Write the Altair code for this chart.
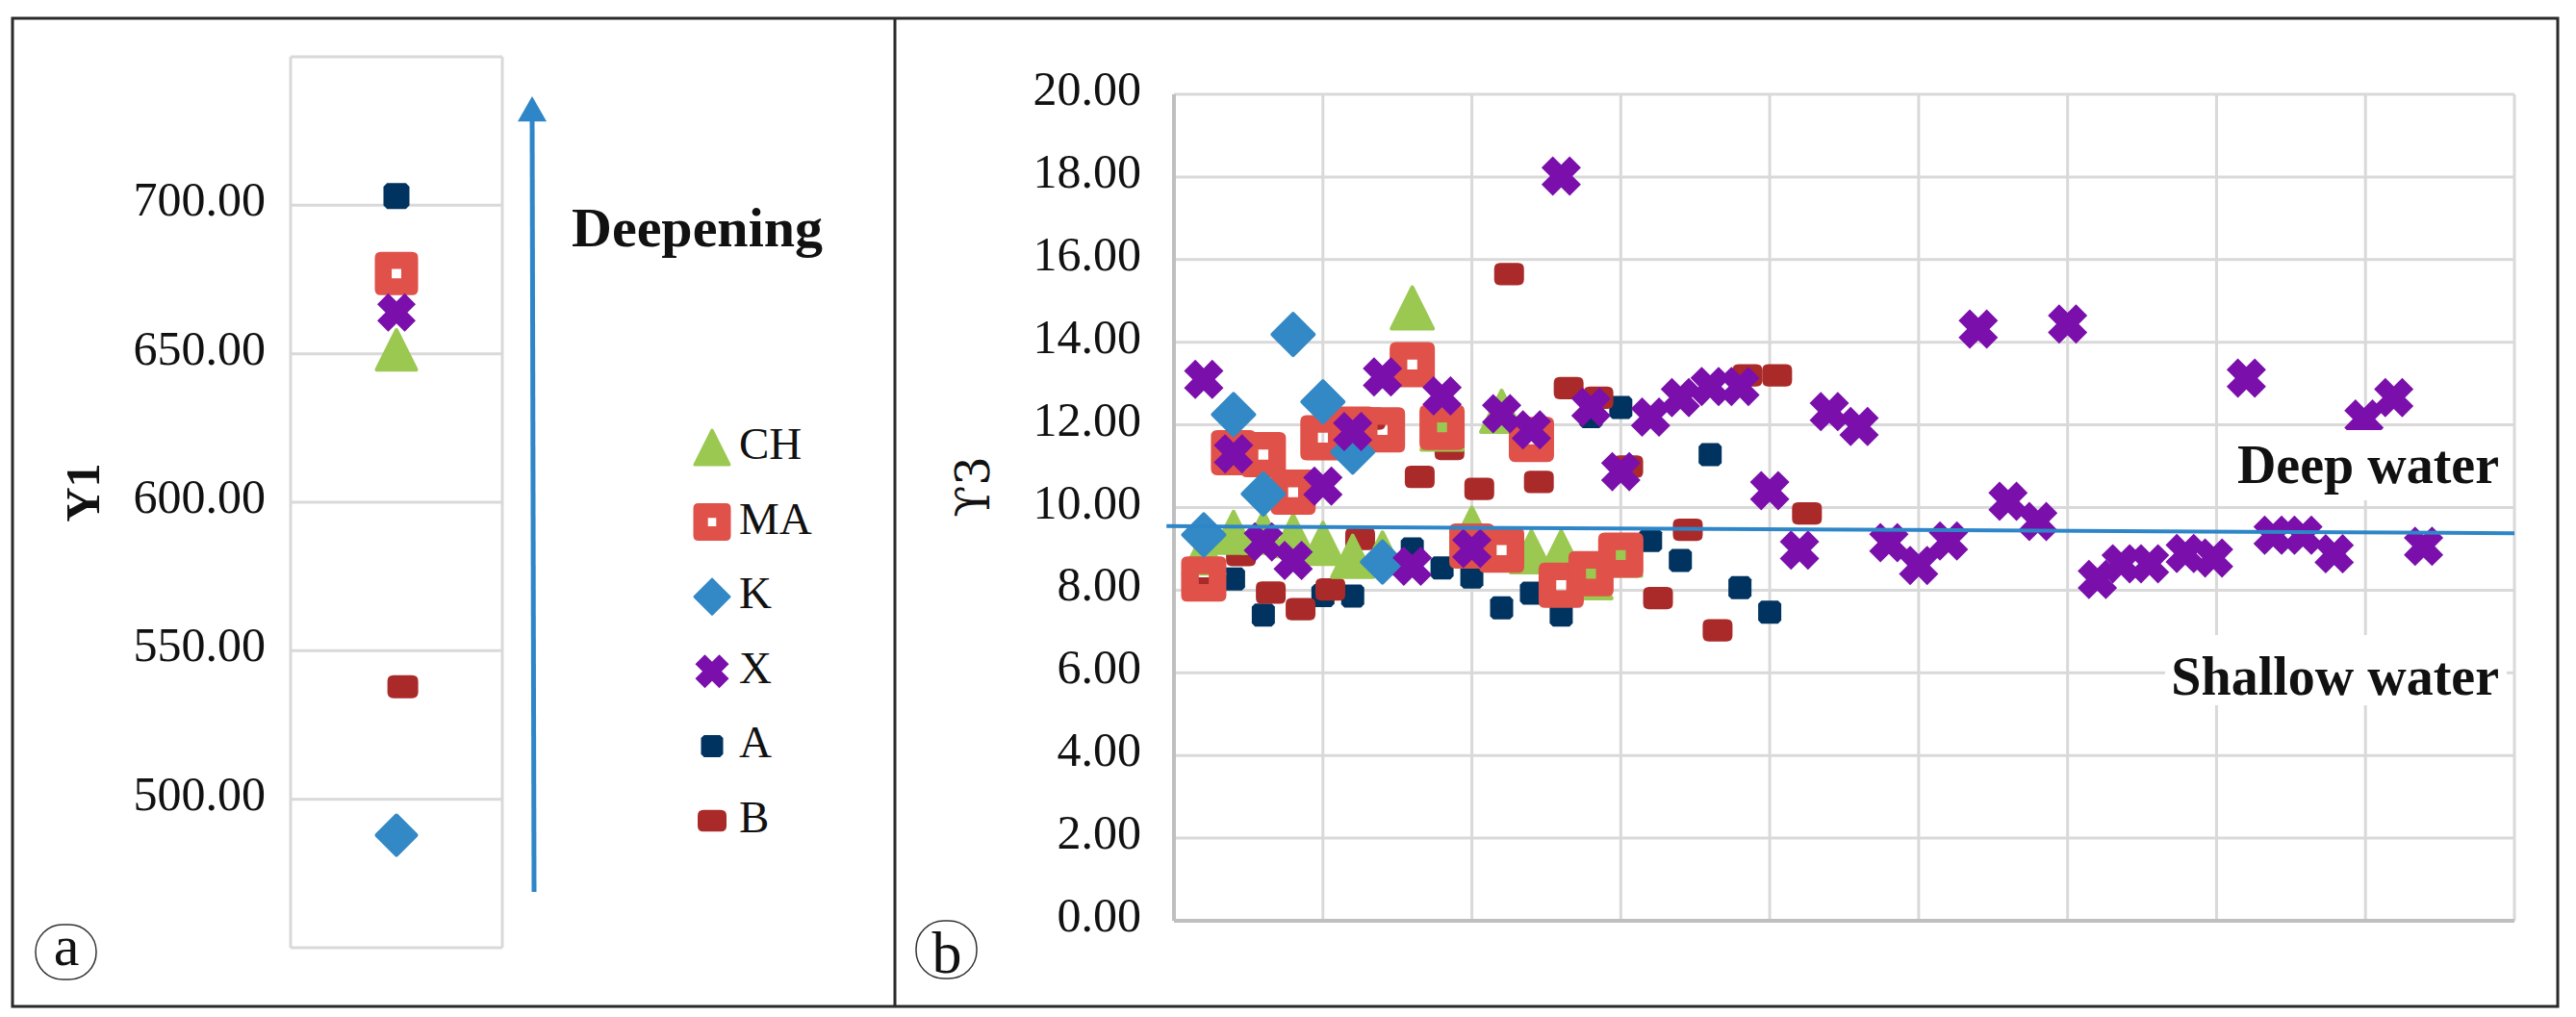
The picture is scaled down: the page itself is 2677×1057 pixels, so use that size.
import math
import altair as alt
import pandas as pd

# ---------------- data ----------------
series = ["CH", "MA", "K", "X", "A", "B"]

# panel (a): Y1 per series (single column)
y1_series = ["CH", "MA", "K", "X", "A", "B"]
y1_xpos = [0.5, 0.5, 0.5, 0.5, 0.5, 0.53]
y1_vals = [651.3, 677.0, 487.9, 663.9, 703.1, 537.9]
y1_ticks = [500, 550, 600, 650, 700]
y1_grid = [450, 500, 550, 600, 650, 700, 750]

# panel (b): Y3
ch_x = [2, 4, 6, 8, 10, 12, 14, 16, 18, 20, 22, 24, 26, 28, 30]
ch_y = [8.9, 9.4, 9.4, 9.32, 9.13, 8.82, 8.9, 14.83, 11.9, 9.5, 12.33, 8.93, 8.93, 8.3, 8.85]

ma_x = [2, 4, 6, 8, 10, 12, 14, 16, 18, 20, 22, 24, 26, 28, 30]
ma_y = [8.27, 11.33, 11.28, 10.37, 11.69, 11.9, 11.88, 13.46, 11.94, 9.07, 8.97, 11.65, 8.12, 8.4, 8.85]

k_x = [2, 4, 6, 8, 10, 12, 14]
k_y = [9.34, 12.25, 10.33, 14.19, 12.56, 11.34, 8.68]

x_x = [2, 4, 6, 8, 10, 12, 14, 16, 18, 20, 22, 24, 26, 28, 30, 32, 34, 36, 38, 40,
       42, 44, 46, 48, 50, 52, 54, 56, 58, 60, 62, 63.6, 65.5, 67.9, 69.8, 72, 73.8,
       75.8, 77.9, 79.9, 81.9, 83.9]
x_y = [13.1, 11.3, 9.17, 8.72, 10.52, 11.84, 13.16, 8.58, 12.7, 9.01, 12.27, 11.88,
       18.02, 12.43, 10.87, 12.19, 12.66, 12.93, 12.93, 10.41, 8.97, 12.32, 11.96,
       9.15, 8.6, 9.19, 14.32, 10.15, 9.66, 14.44, 8.26, 8.64, 8.64, 8.89, 8.78,
       13.13, 9.33, 9.33, 8.88, 12.14, 12.66, 9.06]

a_x = [4, 6, 10, 12, 16, 18, 20, 22, 24, 26, 28, 30, 32, 34, 36, 38, 40]
a_y = [8.27, 7.4, 7.87, 7.86, 9.0, 8.54, 8.32, 7.57, 7.93, 7.4, 12.2, 12.42, 9.2,
       8.72, 11.28, 8.06, 7.47]

b_x = [2.1, 4.5, 6.5, 8.5, 10.5, 12.5, 13.2, 16.5, 18.5, 20.5, 22.5, 24.5, 26.5,
       28.5, 30.5, 32.5, 34.5, 36.5, 38.5, 40.5, 42.5]
b_y = [8.04, 8.85, 7.94, 7.54, 8.02, 9.24, 12.15, 10.74, 11.42, 10.45, 15.65, 10.62,
       12.89, 12.66, 10.99, 7.81, 9.46, 7.03, 13.2, 13.2, 9.86]

y3_ticks = [0, 2, 4, 6, 8, 10, 12, 14, 16, 18, 20]
y3_hgrid = [2, 4, 6, 8, 10, 12, 14, 16, 18, 20]
y3_vgrid = [10, 20, 30, 40, 50, 60, 70, 80, 90]

# threshold line (deep / shallow)
thr_x = [-0.5, 90]
thr_y = [9.55, 9.38]

legend_labels = ["CH", "MA", "K", "X", "A", "B"]

# ---------------- styles ----------------
COL = {"CH": "#9BC850", "MA": "#E05149", "K": "#3389C6", "X": "#7A0FAB",
       "A": "#00335F", "B": "#AA2A2A"}
BLUE = "#2E86C8"
GRID = "#D9D9D9"
AXIS = "#BFBFBF"
FONT = "Liberation Serif"

# marker paths normalised to [-1, 1]
def x_path(a=0.40):
    plus = [(-a, -1), (a, -1), (a, -a), (1, -a), (1, a), (a, a), (a, 1), (-a, 1),
            (-a, a), (-1, a), (-1, -a), (-a, -a)]
    rot = [((px - py) / math.sqrt(2), (px + py) / math.sqrt(2)) for px, py in plus]
    m = max(max(abs(p[0]), abs(p[1])) for p in rot)
    return "M" + " L".join(f"{px / m:.3f},{py / m:.3f}" for px, py in rot) + " Z"

SHAPE = {
    "CH": "M0,-1 L1,1 L-1,1 Z",
    "MA": ("M-0.72,-1 L0.72,-1 Q1,-1 1,-0.72 L1,0.72 Q1,1 0.72,1 L-0.72,1 "
           "Q-1,1 -1,0.72 L-1,-0.72 Q-1,-1 -0.72,-1 Z "
           "M-0.22,-0.22 L-0.22,0.22 L0.22,0.22 L0.22,-0.22 Z"),
    "K": "M0,-1 L1,0 L0,1 L-1,0 Z",
    "X": x_path(),
    "A": "M-0.72,-1 L0.72,-1 L1,-0.72 L1,0.72 L0.72,1 L-0.72,1 L-1,0.72 L-1,-0.72 Z",
    "B": ("M-0.6,-0.75 L0.6,-0.75 Q1,-0.75 1,-0.35 L1,0.35 Q1,0.75 0.6,0.75 "
          "L-0.6,0.75 Q-1,0.75 -1,0.35 L-1,-0.35 Q-1,-0.75 -0.6,-0.75 Z"),
}
# (size in px of the [-1,1] box, round stroke width)
SIZE_B = {"CH": (43, 4), "MA": (47, 0), "K": (43, 4), "X": (41, 0), "A": (24, 0), "B": (31, 0)}
SIZE_A = {"CH": (41, 4), "MA": (45, 0), "K": (41, 4), "X": (40, 0), "A": (27, 0), "B": (32, 0)}
SIZE_L = {"CH": (36, 3), "MA": (39, 0), "K": (36, 3), "X": (35, 0), "A": (23, 0), "B": (30, 0)}

# ---------------- scales (chart pixel ranges) ----------------
def bx():
    return alt.Scale(domain=[0, 90], range=[1212, 2605], zero=False, nice=False)

def by():
    return alt.Scale(domain=[0, 20], range=[949, 90], zero=False, nice=False)

def ax():
    return alt.Scale(domain=[0, 1], range=[294, 514], zero=False, nice=False)

def ay():
    return alt.Scale(domain=[450, 750], range=[977, 51], zero=False, nice=False)

def ly():
    return alt.Scale(domain=[0, 5], range=[457, 845], zero=False, nice=False)


def marker(df, xenc, yenc, key, sizes):
    px, sw = sizes[key]
    kw = dict(shape=SHAPE[key], size=px * px, filled=True, fill=COL[key], opacity=1,
              fillOpacity=1)
    if sw:
        kw.update(stroke=COL[key], strokeWidth=sw, strokeJoin="round", strokeOpacity=1)
    else:
        kw.update(strokeWidth=0)
    return alt.Chart(df).mark_point(**kw).encode(x=xenc, y=yenc)


layers = []

# ---- frames ----
frame_df = pd.DataFrame({"d": [0]})
layers.append(alt.Chart(frame_df).mark_rect(fill="white", fillOpacity=0, stroke="#2a2a2a",
                                            strokeWidth=3).encode(
    x=alt.value(5), x2=alt.value(2650), y=alt.value(11), y2=alt.value(1038)))
layers.append(alt.Chart(frame_df).mark_rule(color="#2a2a2a", strokeWidth=3).encode(
    x=alt.value(922), y=alt.value(11), y2=alt.value(1038)))

# ---- panel (a) grid ----
ga = pd.DataFrame({"v": y1_grid, "x0": 0.0, "x1": 1.0})
layers.append(alt.Chart(ga).mark_rule(color=GRID, strokeWidth=3).encode(
    x=alt.X("x0:Q", scale=ax(), axis=None), x2="x1:Q",
    y=alt.Y("v:Q", scale=ay(), axis=None)))
gav = pd.DataFrame({"x": [0.0, 1.0], "y0": 450, "y1": 750})
layers.append(alt.Chart(gav).mark_rule(color=GRID, strokeWidth=3).encode(
    x=alt.X("x:Q", scale=ax(), axis=None),
    y=alt.Y("y0:Q", scale=ay(), axis=None), y2="y1:Q"))

# ---- panel (b) grid ----
gbh = pd.DataFrame({"v": y3_hgrid, "x0": 0.0, "x1": 90.0})
layers.append(alt.Chart(gbh).mark_rule(color=GRID, strokeWidth=3).encode(
    x=alt.X("x0:Q", scale=bx(), axis=None), x2="x1:Q",
    y=alt.Y("v:Q", scale=by(), axis=None)))
gbv = pd.DataFrame({"v": y3_vgrid, "y0": 0.0, "y1": 20.0})
layers.append(alt.Chart(gbv).mark_rule(color=GRID, strokeWidth=3).encode(
    x=alt.X("v:Q", scale=bx(), axis=None),
    y=alt.Y("y0:Q", scale=by(), axis=None), y2="y1:Q"))
# axis lines
layers.append(alt.Chart(pd.DataFrame({"v": [0.0], "x0": 0.0, "x1": 90.0})).mark_rule(
    color=AXIS, strokeWidth=4).encode(
    x=alt.X("x0:Q", scale=bx(), axis=None), x2="x1:Q",
    y=alt.Y("v:Q", scale=by(), axis=None)))
layers.append(alt.Chart(pd.DataFrame({"v": [0.0], "y0": 0.0, "y1": 20.0})).mark_rule(
    color=AXIS, strokeWidth=4).encode(
    x=alt.X("v:Q", scale=bx(), axis=None),
    y=alt.Y("y0:Q", scale=by(), axis=None), y2="y1:Q"))

# ---- panel (b) markers (drawing order: A, B, CH, MA, K, X) ----
pb = {"CH": (ch_x, ch_y), "MA": (ma_x, ma_y), "K": (k_x, k_y), "X": (x_x, x_y),
      "A": (a_x, a_y), "B": (b_x, b_y)}
for key in ["A", "B", "CH", "MA", "K", "X"]:
    xs, ys = pb[key]
    df = pd.DataFrame({"x": xs, "y": ys})
    layers.append(marker(df, alt.X("x:Q", scale=bx(), axis=None),
                         alt.Y("y:Q", scale=by(), axis=None), key, SIZE_B))

# ---- panel (a) markers ----
pa = pd.DataFrame({"s": y1_series, "x": y1_xpos, "y": y1_vals})
for key in ["A", "B", "CH", "MA", "K", "X"]:
    df = pa[pa["s"] == key]
    layers.append(marker(df, alt.X("x:Q", scale=ax(), axis=None),
                         alt.Y("y:Q", scale=ay(), axis=None), key, SIZE_A))

# ---- threshold line ----
thr = pd.DataFrame({"x": [thr_x[0]], "x2": [thr_x[1]], "y": [thr_y[0]], "y2": [thr_y[1]]})
layers.append(alt.Chart(thr).mark_rule(color=BLUE, strokeWidth=4).encode(
    x=alt.X("x:Q", scale=bx(), axis=None), x2="x2:Q",
    y=alt.Y("y:Q", scale=by(), axis=None), y2="y2:Q"))

# ---- white boxes behind annotations ----
layers.append(alt.Chart(frame_df).mark_rect(fill="white").encode(
    x=alt.value(2302), x2=alt.value(2597), y=alt.value(439), y2=alt.value(512)))
layers.append(alt.Chart(frame_df).mark_rect(fill="white").encode(
    x=alt.value(2242), x2=alt.value(2597), y=alt.value(652), y2=alt.value(725)))

# ---- annotations ----
def label(text, x, y, size, weight="normal", align="left", baseline="alphabetic", angle=0,
          color="#111111", font=FONT):
    kw = dict(text=text, font=font, fontSize=size, fontWeight=weight, align=align,
              baseline=baseline, color=color)
    if angle:
        kw["angle"] = angle
    return alt.Chart(frame_df).mark_text(**kw).encode(x=alt.value(x), y=alt.value(y))

layers.append(label("Deep water", 2589, 494, 56, "bold", "right"))
layers.append(label("Shallow water", 2589, 714, 56, "bold", "right"))
layers.append(label("Deepening", 586, 248, 58, "bold", "left"))
layers.append(label("Y1", 80, 504, 50, "bold", "center", "middle", 270))
layers.append(label("ϒ3", 1006, 498, 48, "normal", "center", "middle", 270,
                    font="DejaVu Serif"))

# circled panel letters
layers.append(alt.Chart(frame_df).mark_rect(fill="white", fillOpacity=0, stroke="#333333",
                                            strokeWidth=1.5, cornerRadius=28).encode(
    x=alt.value(29), x2=alt.value(92), y=alt.value(953), y2=alt.value(1010)))
layers.append(alt.Chart(frame_df).mark_rect(fill="white", fillOpacity=0, stroke="#333333",
                                            strokeWidth=1.5, cornerRadius=29).encode(
    x=alt.value(944), x2=alt.value(1007), y=alt.value(949), y2=alt.value(1009)))
layers.append(label("a", 61, 995, 60, "normal", "center"))
layers.append(label("b", 976, 1003, 62, "normal", "center"))

# ---- arrow ----
layers.append(alt.Chart(frame_df).mark_rule(color=BLUE, strokeWidth=5).encode(
    x=alt.value(547), x2=alt.value(545), y=alt.value(919), y2=alt.value(112)))
layers.append(alt.Chart(frame_df).mark_point(
    shape="M0,-1 L1,0.75 L-1,0.75 Z", size=900, filled=True, fill=BLUE, opacity=1,
    strokeWidth=0).encode(x=alt.value(545), y=alt.value(107)))

# ---- tick labels ----
ta = pd.DataFrame({"v": y1_ticks})
layers.append(alt.Chart(ta).mark_text(font=FONT, fontSize=50, align="right",
                                      baseline="middle", dy=-4, color="#111111").encode(
    x=alt.value(268), y=alt.Y("v:Q", scale=ay(), axis=None),
    text=alt.Text("v:Q", format=".2f")))
tb = pd.DataFrame({"v": y3_ticks})
layers.append(alt.Chart(tb).mark_text(font=FONT, fontSize=50, align="right",
                                      baseline="middle", dy=-4, color="#111111").encode(
    x=alt.value(1178), y=alt.Y("v:Q", scale=by(), axis=None),
    text=alt.Text("v:Q", format=".2f")))

# ---- legend (panel a) ----
for i, key in enumerate(legend_labels):
    df = pd.DataFrame({"row": [i]})
    layers.append(marker(df, alt.value(732), alt.Y("row:Q", scale=ly(), axis=None),
                         key, SIZE_L))
lg = pd.DataFrame({"row": list(range(len(legend_labels))), "label": legend_labels})
layers.append(alt.Chart(lg).mark_text(font=FONT, fontSize=47, align="left",
                                      baseline="middle", dy=-2, color="#111111").encode(
    x=alt.value(760), y=alt.Y("row:Q", scale=ly(), axis=None), text="label:N"))

chart = alt.layer(*layers).resolve_scale(x="independent", y="independent").properties(
    width=2661, height=1041, autosize=alt.AutoSizeParams(type="none"), padding=0,
    background="white"
).configure_view(stroke=None)

chart.save("out.html", embed_options={"renderer": "svg", "actions": False})
